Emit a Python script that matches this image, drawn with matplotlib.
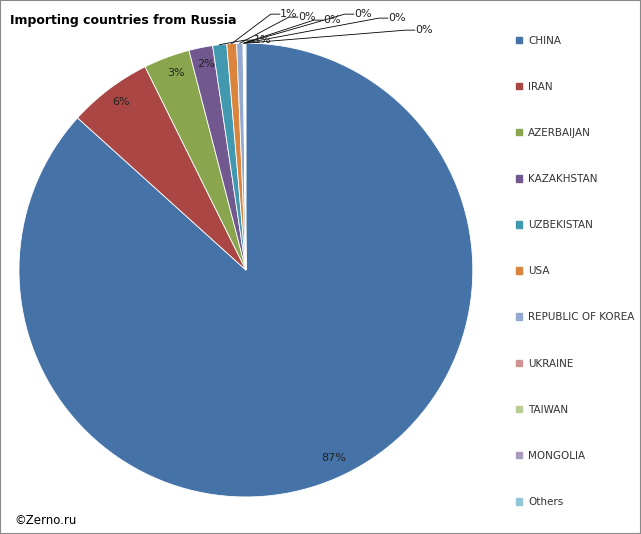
import matplotlib.pyplot as plt
import matplotlib.patches as mpatches
import numpy as np

countries = ["CHINA","IRAN","AZERBAIJAN","KAZAKHSTAN","UZBEKISTAN","USA",
             "REPUBLIC OF KOREA","UKRAINE","TAIWAN","MONGOLIA","Others"]
shares = [87.0, 6.0, 3.3, 1.7, 1.0, 0.7, 0.45, 0.05, 0.05, 0.03, 0.07]
colors = ["#4572A7","#AA4643","#89A54E","#71588F","#4198AF","#DB843D",
          "#93A9CF","#D19392","#B9CD96","#A99BBD","#92C5D9"]
labels_pct = ["87%","6%","3%","2%","1%","1%","0%","0%","0%","0%","0%"]

fig = plt.figure(figsize=(6.41,5.34), dpi=100)
fig.patches.append(mpatches.Rectangle((0,0),1,1,transform=fig.transFigure,
                   fill=False, edgecolor="#888888", lw=1.5))
ax = fig.add_axes([0.0296,0.0693,0.708,0.850])
wedges, _ = ax.pie(shares, colors=colors, startangle=90, counterclock=False,
                   radius=1, wedgeprops=dict(edgecolor="white", linewidth=0.6))
ax.set_xlim(-1,1); ax.set_ylim(-1,1); ax.set_aspect("equal")

def px(x, y):
    return ((x-246)/227, (270-y)/227)

inside = {0:(334,458),1:(121,102),2:(176,73),3:(206,64)}
for i,(x,y) in inside.items():
    ax.text(*px(x,y), labels_pct[i], fontsize=8, ha="center", va="center", color="#222222")

outside = {4:(264,40),5:(290,14),6:(308,17),7:(333,20),8:(364,14),9:(398,18),10:(425,30)}
total = sum(shares)
cum = 0
mids = []
for s in shares:
    mids.append(90 - (cum + s/2)/total*360)
    cum += s
for i,(x,y) in outside.items():
    a = np.deg2rad(mids[i])
    ex, ey = np.cos(a), np.sin(a)
    tx, ty = px(x-10, y)
    ax.plot([ex, tx-0.04, tx], [ey, ty, ty], color="black", lw=0.6, clip_on=False)
    ax.text(tx, ty, labels_pct[i], fontsize=8, ha="left", va="center", color="#222222")

fig.text(0.016, 0.955, "Importing countries from Russia", fontsize=9, fontweight="bold")
fig.text(0.022, 0.018, "©Zerno.ru", fontsize=8.5)

handles = [mpatches.Patch(color=c) for c in colors]
fig.legend(handles, countries, loc="upper left", bbox_to_anchor=(0.79, 0.951),
           frameon=False, fontsize=7.5, labelspacing=3.47, handlelength=0.6,
           handleheight=0.6, handletextpad=0.6, labelcolor="#333333")
fig.savefig("out.png", dpi=100)
